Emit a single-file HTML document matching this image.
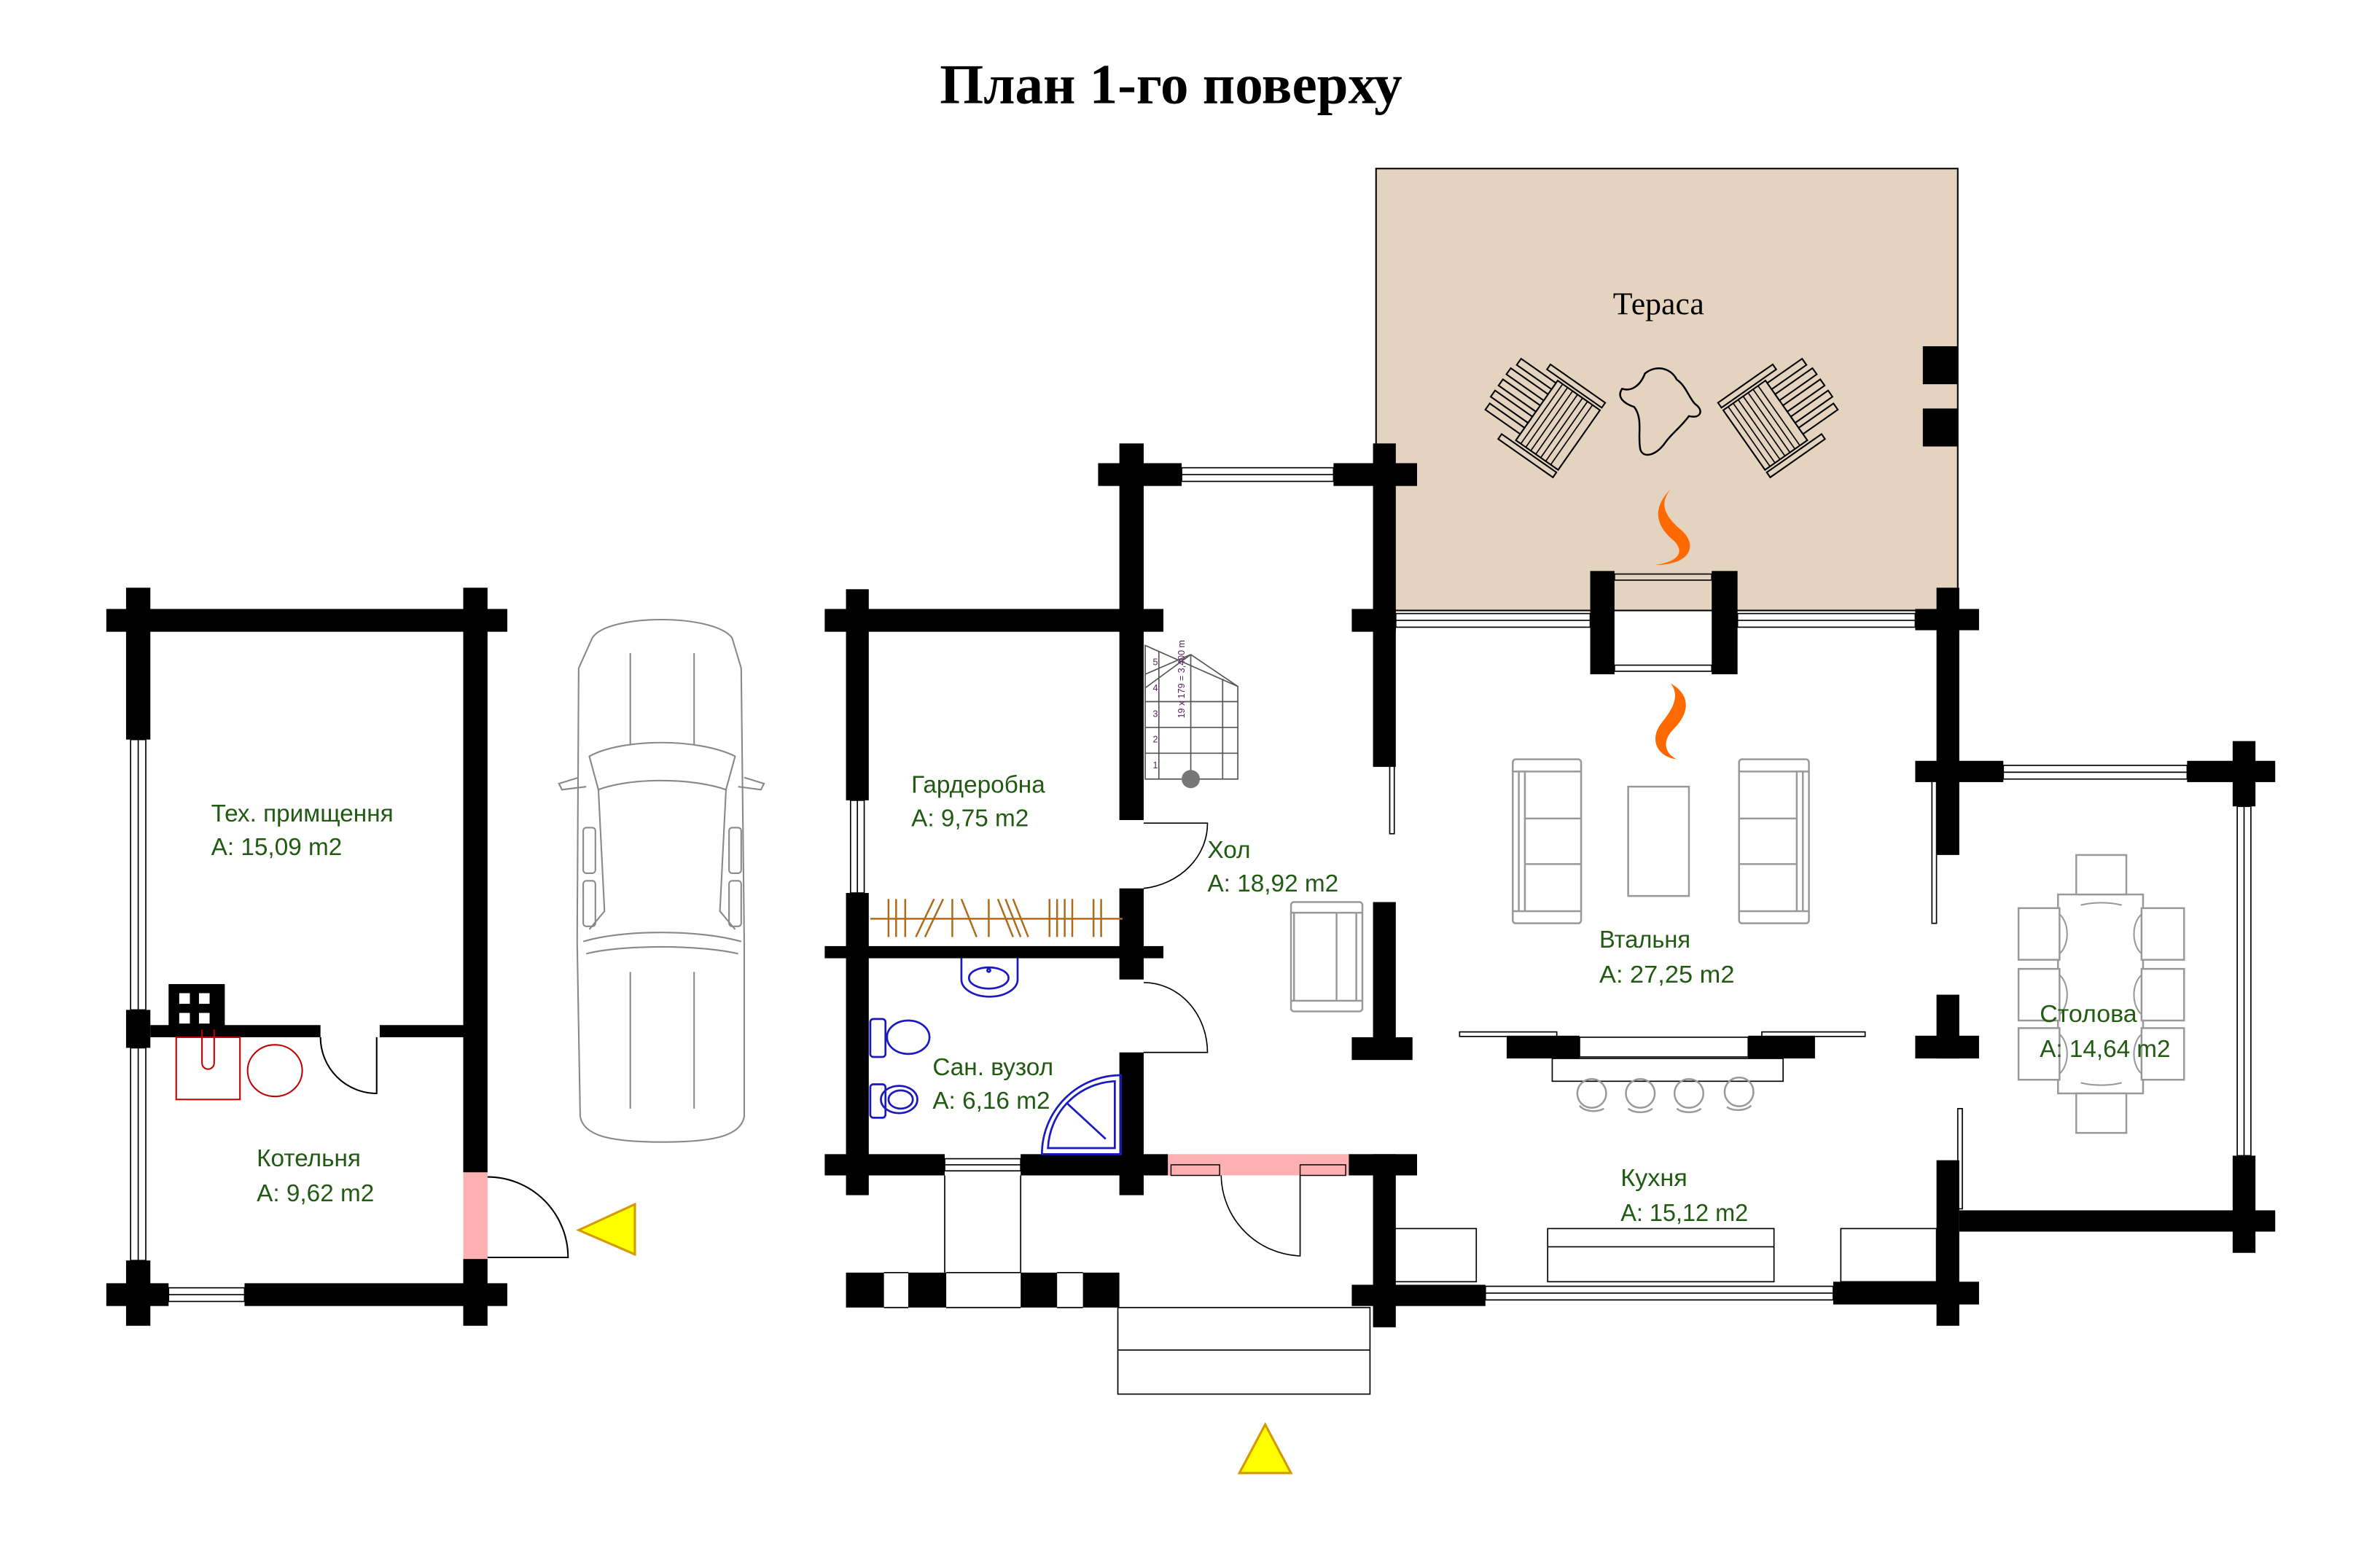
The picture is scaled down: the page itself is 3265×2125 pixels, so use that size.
<!DOCTYPE html>
<html><head><meta charset="utf-8"><style>
html,body{margin:0;padding:0;background:#fff}
svg{display:block}
.t{font-family:"Liberation Sans",sans-serif;font-size:16px;fill:#215a12}
.n{font-family:"Liberation Sans",sans-serif;font-size:16px;fill:#215a12}
</style></head><body>
<svg width="3265" height="2125" viewBox="0 0 1567 1020" preserveAspectRatio="none" xmlns="http://www.w3.org/2000/svg">
<rect width="1567" height="1020" fill="#fff"/>
<text x="771" y="68" text-anchor="middle" font-family="Liberation Serif,serif" font-weight="bold" font-size="37">План 1-го поверху</text>

<!-- Terrace -->
<rect x="906" y="111" width="383" height="291" fill="#e4d3bf" stroke="#000" stroke-width="1"/>
<text x="1092" y="207" text-anchor="middle" font-family="Liberation Serif,serif" font-size="21">Тераса</text>
<rect x="1266" y="228" width="23" height="25" fill="#000"/>
<rect x="1266" y="269" width="23" height="25" fill="#000"/>
<!-- chairs -->
<g stroke="#000" stroke-width="1" fill="#e4d3bf">
 <g transform="translate(1020,276) rotate(35)">
  <rect x="-10" y="-24" width="34" height="48"/>
  <g stroke-width="0.8"><line x1="-6" y1="-24" x2="-6" y2="24"/><line x1="-2" y1="-24" x2="-2" y2="24"/><line x1="2" y1="-24" x2="2" y2="24"/><line x1="6" y1="-24" x2="6" y2="24"/><line x1="10" y1="-24" x2="10" y2="24"/><line x1="14" y1="-24" x2="14" y2="24"/><line x1="18" y1="-24" x2="18" y2="24"/></g>
  <rect x="-38" y="-22" width="28" height="5"/><rect x="-40" y="-13" width="30" height="5"/><rect x="-40" y="-4" width="30" height="5"/><rect x="-40" y="5" width="30" height="5"/><rect x="-38" y="14" width="28" height="5"/>
  <rect x="-20" y="-30" width="44" height="4"/><rect x="-20" y="26" width="44" height="4"/>
 </g>
 <g transform="translate(1168,276) rotate(-35)">
  <rect x="-24" y="-24" width="34" height="48"/>
  <g stroke-width="0.8"><line x1="-20" y1="-24" x2="-20" y2="24"/><line x1="-16" y1="-24" x2="-16" y2="24"/><line x1="-12" y1="-24" x2="-12" y2="24"/><line x1="-8" y1="-24" x2="-8" y2="24"/><line x1="-4" y1="-24" x2="-4" y2="24"/><line x1="0" y1="-24" x2="0" y2="24"/><line x1="4" y1="-24" x2="4" y2="24"/></g>
  <rect x="10" y="-22" width="28" height="5"/><rect x="10" y="-13" width="30" height="5"/><rect x="10" y="-4" width="30" height="5"/><rect x="10" y="5" width="30" height="5"/><rect x="10" y="14" width="28" height="5"/>
  <rect x="-24" y="-30" width="44" height="4"/><rect x="-24" y="26" width="44" height="4"/>
 </g>
</g>
<path d="M1083,246 C1090,240 1100,242 1104,250 C1110,254 1112,262 1116,266 C1122,270 1120,276 1112,274 C1106,282 1100,286 1096,292 C1090,300 1082,302 1080,296 C1078,286 1082,276 1076,268 C1070,266 1064,262 1068,256 C1074,258 1080,254 1083,246 Z" fill="none" stroke="#000" stroke-width="1.2"/>
<!-- flames -->
<path d="M1100,322 C1086,336 1092,348 1102,356 C1110,364 1104,370 1090,372 C1112,372 1118,360 1108,350 C1096,340 1092,332 1100,322 Z" fill="#ff6a00"/>
<path d="M1100,450 C1114,458 1112,470 1102,480 C1094,488 1096,496 1104,500 C1090,498 1086,486 1094,476 C1102,466 1106,458 1100,450 Z" fill="#ff6a00"/>

<!-- ============ GARAGE ============ -->
<g fill="#000">
<rect x="70" y="401" width="264" height="15"/>
<rect x="83" y="387" width="16" height="100"/>
<rect x="83" y="665" width="16" height="25"/>
<rect x="83" y="830" width="16" height="43"/>
<rect x="305" y="387" width="16" height="385"/>
<rect x="305" y="829" width="16" height="44"/>
<rect x="70" y="845" width="41" height="15"/>
<rect x="161" y="845" width="173" height="15"/>
<rect x="99" y="675" width="112" height="8"/>
<rect x="250" y="675" width="55" height="8"/>
<rect x="111" y="648" width="37" height="35"/>
</g>
<g fill="none" stroke="#000" stroke-width="0.8">
<rect x="86" y="487" width="10" height="178"/><line x1="91" y1="487" x2="91" y2="665"/>
<rect x="86" y="690" width="10" height="140"/><line x1="91" y1="690" x2="91" y2="830"/>
<rect x="111" y="848" width="50" height="9"/><line x1="111" y1="852.5" x2="161" y2="852.5"/>
</g>
<g fill="#fff"><rect x="118" y="654" width="7" height="7"/><rect x="131" y="654" width="7" height="7"/><rect x="118" y="667" width="7" height="7"/><rect x="131" y="667" width="7" height="7"/></g>
<g fill="none" stroke="#c00000" stroke-width="1">
<rect x="116" y="683" width="42" height="41"/>
<path d="M133,678 V700 A4,4 0 0 0 141,700 V678"/>
<ellipse cx="181" cy="705" rx="18" ry="17"/>
</g>
<path d="M211,683 A37,37 0 0 0 248,720 V683" fill="none" stroke="#000" stroke-width="1"/>
<rect x="305" y="772" width="16" height="57" fill="#ffb0b0"/>
<path d="M321,775 A53,53 0 0 1 374,828 H321" fill="none" stroke="#000" stroke-width="1"/>
<polygon points="381,810 418,793 418,826" fill="#ffff00" stroke="#d49a00" stroke-width="1.5"/>
<text class="t" x="139" y="541">Тех. примщення</text>
<text class="t" x="139" y="563">A: 15,09 m2</text>
<text class="t" x="169" y="768">Котельня</text>
<text class="t" x="169" y="791">A: 9,62 m2</text>

<!-- car -->
<g fill="none" stroke="#888" stroke-width="1">
<path d="M390,420 C400,404 470,404 482,420 L488,440 L490,620 L490,735 C488,748 470,752 436,752 C402,752 384,748 382,735 L380,620 L381,440 Z"/>
<path d="M388,498 C410,486 460,486 484,498 L478,520 C455,512 415,512 394,520 Z"/>
<path d="M384,620 C410,612 460,612 488,620"/>
<path d="M386,628 C410,622 460,622 486,628"/>
<line x1="415" y1="430" x2="415" y2="490"/><line x1="457" y1="430" x2="457" y2="490"/>
<line x1="415" y1="640" x2="415" y2="730"/><line x1="457" y1="640" x2="457" y2="730"/>
<path d="M394,520 L398,600 L388,612"/><path d="M478,520 L474,600 L484,612"/>
<path d="M381,512 L368,516 L370,520 L386,518"/><path d="M490,512 L503,516 L501,520 L486,518"/>
<rect x="384" y="545" width="8" height="30" rx="2"/><rect x="480" y="545" width="8" height="30" rx="2"/>
<rect x="384" y="580" width="8" height="30" rx="2"/><rect x="480" y="580" width="8" height="30" rx="2"/>
</g>

<!-- ============ MAIN HOUSE ============ -->
<g fill="#000">
<rect x="543" y="401" width="223" height="15"/>
<rect x="557" y="388" width="15" height="139"/>
<rect x="557" y="588" width="15" height="199"/>
<rect x="543" y="623" width="223" height="8"/>
<rect x="737" y="292" width="16" height="248"/>
<rect x="737" y="585" width="16" height="60"/>
<rect x="737" y="693" width="16" height="94"/>
<rect x="723" y="305" width="55" height="15"/>
<rect x="878" y="305" width="55" height="15"/>
<rect x="904" y="292" width="15" height="213"/>
<rect x="890" y="401" width="29" height="15"/>
<rect x="904" y="594" width="15" height="103"/>
<rect x="890" y="683" width="40" height="15"/>
<rect x="543" y="760" width="79" height="14"/>
<rect x="672" y="760" width="97" height="14"/>
<rect x="888" y="760" width="45" height="14"/>
<rect x="904" y="760" width="15" height="114"/>
<rect x="890" y="846" width="88" height="14"/>
<rect x="557" y="838" width="25" height="23"/>
<rect x="598" y="838" width="25" height="23"/>
<rect x="672" y="838" width="24" height="23"/>
<rect x="713" y="838" width="24" height="23"/>
<rect x="1047" y="376" width="16" height="68"/>
<rect x="1127" y="376" width="17" height="68"/>
<rect x="1275" y="387" width="15" height="176"/>
<rect x="1261" y="401" width="42" height="14"/>
<rect x="1261" y="501" width="58" height="14"/>
<rect x="1440" y="501" width="58" height="14"/>
<rect x="1470" y="488" width="15" height="43"/>
<rect x="992" y="682" width="48" height="15"/>
<rect x="1151" y="682" width="44" height="15"/>
<rect x="1275" y="655" width="15" height="42"/>
<rect x="1261" y="682" width="42" height="15"/>
<rect x="1207" y="844" width="96" height="15"/>
<rect x="1275" y="764" width="15" height="109"/>
<rect x="1290" y="797" width="208" height="14"/>
<rect x="1470" y="761" width="15" height="64"/>
</g>
<g fill="none" stroke="#000" stroke-width="0.8">
<rect x="560" y="527" width="9" height="61"/><line x1="564.5" y1="527" x2="564.5" y2="588"/>
<rect x="778" y="308" width="100" height="9"/><line x1="778" y1="312.5" x2="878" y2="312.5"/>
<rect x="622" y="763" width="50" height="8"/><line x1="622" y1="767" x2="672" y2="767"/>
<rect x="919" y="404" width="128" height="9"/><line x1="919" y1="408.5" x2="1047" y2="408.5"/>
<rect x="1144" y="404" width="117" height="9"/><line x1="1144" y1="408.5" x2="1261" y2="408.5"/>
<rect x="1319" y="504" width="121" height="9"/><line x1="1319" y1="508.5" x2="1440" y2="508.5"/>
<rect x="1473" y="531" width="9" height="230"/><line x1="1477.5" y1="531" x2="1477.5" y2="761"/>
<rect x="978" y="847" width="229" height="9"/><line x1="978" y1="851.5" x2="1207" y2="851.5"/>
<rect x="1063" y="378" width="64" height="4"/><rect x="1063" y="438" width="64" height="4"/>
<rect x="915" y="460" width="3" height="89"/>
<rect x="1272" y="514" width="3" height="94"/>
<rect x="1289" y="730" width="3" height="66"/>
<line x1="622" y1="774" x2="622" y2="838"/><line x1="672" y1="774" x2="672" y2="838"/>
<line x1="582" y1="838" x2="598" y2="838"/><line x1="582" y1="861" x2="598" y2="861"/>
<line x1="623" y1="838" x2="672" y2="838"/><line x1="623" y1="861" x2="672" y2="861"/>
<line x1="696" y1="838" x2="713" y2="838"/><line x1="696" y1="861" x2="713" y2="861"/>
<rect x="736" y="861" width="166" height="57"/><line x1="736" y1="889" x2="902" y2="889"/>
<path d="M753,542 H795 A48,43 0 0 1 753,585"/>
<path d="M753,647 A42,46 0 0 1 795,693 H753"/>
<path d="M804,774 A54,54 0 0 0 856,827 V774"/>
<rect x="961" y="679.5" width="64" height="3"/>
<rect x="1160" y="679.5" width="68" height="3"/>
<rect x="1040" y="683" width="111" height="13"/>
<rect x="1022" y="697" width="152" height="15"/>
<rect x="917" y="809" width="55" height="35"/>
<rect x="1019" y="809" width="149" height="35"/><line x1="1019" y1="821" x2="1168" y2="821"/>
<rect x="1212" y="809" width="63" height="35"/>
</g>
<rect x="769" y="760" width="119" height="14" fill="#ffb0b0"/>
<g fill="none" stroke="#000" stroke-width="0.7"><rect x="771" y="767" width="32" height="7"/><rect x="856" y="767" width="30" height="7"/></g>
<g fill="none" stroke="#999" stroke-width="1.2">
<circle cx="1048" cy="720" r="9.5"/><circle cx="1080" cy="720" r="9.5"/><circle cx="1112" cy="720" r="9.5"/><circle cx="1145" cy="719" r="9.5"/>
<path d="M1040,728 A10,6 0 0 0 1056,730"/><path d="M1072,730 A10,6 0 0 0 1088,730"/><path d="M1104,730 A10,6 0 0 0 1120,730"/><path d="M1137,729 A10,6 0 0 0 1153,728"/>
</g>
<g fill="none" stroke="#999" stroke-width="1.2">
<rect x="996" y="500" width="45" height="108" rx="2"/><line x1="996" y1="508" x2="1041" y2="508"/><line x1="996" y1="600" x2="1041" y2="600"/><line x1="1000" y1="508" x2="1000" y2="600"/><line x1="1004" y1="508" x2="1004" y2="600"/><line x1="1004" y1="539" x2="1041" y2="539"/><line x1="1004" y1="569" x2="1041" y2="569"/>
<rect x="1145" y="500" width="46" height="108" rx="2"/><line x1="1145" y1="508" x2="1191" y2="508"/><line x1="1145" y1="600" x2="1191" y2="600"/><line x1="1187" y1="508" x2="1187" y2="600"/><line x1="1183" y1="508" x2="1183" y2="600"/><line x1="1145" y1="539" x2="1183" y2="539"/><line x1="1145" y1="569" x2="1183" y2="569"/>
<rect x="1072" y="518" width="40" height="72"/>
<rect x="850" y="594" width="47" height="72" rx="2"/><line x1="850" y1="601" x2="897" y2="601"/><line x1="850" y1="659" x2="897" y2="659"/><line x1="852" y1="601" x2="852" y2="659"/><line x1="880" y1="601" x2="880" y2="659"/><line x1="893" y1="601" x2="893" y2="659"/>
</g>
<g fill="#fff" stroke="#999" stroke-width="1.2">
<rect x="1355" y="589" width="56" height="131"/>
<rect x="1367" y="563" width="33" height="26"/>
<rect x="1367" y="720" width="33" height="26"/>
<rect x="1329" y="598" width="27" height="34"/><rect x="1329" y="638" width="27" height="34"/><rect x="1329" y="677" width="27" height="34"/>
<rect x="1410" y="598" width="28" height="34"/><rect x="1410" y="638" width="28" height="34"/><rect x="1410" y="677" width="28" height="34"/>
</g>
<g fill="none" stroke="#999" stroke-width="1">
<path d="M1370,596 A25,10 0 0 1 1397,596"/><path d="M1370,713 A25,10 0 0 0 1397,713"/>
<path d="M1356,602 A10,15 0 0 1 1356,628"/><path d="M1356,642 A10,15 0 0 1 1356,668"/><path d="M1356,681 A10,15 0 0 1 1356,707"/>
<path d="M1410,602 A10,15 0 0 0 1410,628"/><path d="M1410,642 A10,15 0 0 0 1410,668"/><path d="M1410,681 A10,15 0 0 0 1410,707"/>
</g>
<g fill="none" stroke="#555" stroke-width="0.8">
<path d="M754,425 L815,452 L815,513 L754,513 Z"/>
<line x1="754" y1="444" x2="784" y2="431"/><line x1="784" y1="431" x2="815" y2="452"/>
<line x1="754" y1="462" x2="815" y2="462"/><line x1="754" y1="479" x2="815" y2="479"/><line x1="754" y1="496" x2="815" y2="496"/>
<line x1="784" y1="431" x2="784" y2="513"/><line x1="805" y1="447" x2="805" y2="513"/><line x1="763" y1="429" x2="763" y2="513"/>
<line x1="754" y1="453" x2="784" y2="431"/>
</g>
<circle cx="784" cy="513" r="6" fill="#777"/>
<g font-family="Liberation Sans,sans-serif" font-size="6" fill="#5a2060">
<text x="759" y="438">5</text><text x="759" y="455">4</text><text x="759" y="472">3</text><text x="759" y="489">2</text><text x="759" y="506">1</text>
<text transform="translate(780,473) rotate(-90)">19 x 179 = 3,400 m</text>
</g>
<g stroke="#b06a1a" stroke-width="1.2" fill="none">
<line x1="573" y1="605" x2="739" y2="605"/>
<line x1="585" y1="592" x2="585" y2="617"/><line x1="590" y1="592" x2="590" y2="617"/><line x1="596" y1="592" x2="596" y2="617"/>
<line x1="603" y1="617" x2="615" y2="592"/><line x1="609" y1="617" x2="621" y2="592"/>
<line x1="627" y1="592" x2="627" y2="617"/><line x1="633" y1="592" x2="643" y2="617"/>
<line x1="651" y1="592" x2="651" y2="617"/>
<line x1="657" y1="592" x2="667" y2="617"/><line x1="662" y1="592" x2="672" y2="617"/><line x1="667" y1="592" x2="677" y2="617"/>
<line x1="691" y1="592" x2="691" y2="617"/><line x1="696" y1="592" x2="696" y2="617"/><line x1="701" y1="592" x2="701" y2="617"/><line x1="706" y1="592" x2="706" y2="617"/>
<line x1="720" y1="592" x2="720" y2="617"/><line x1="725" y1="592" x2="725" y2="617"/>
</g>
<g fill="none" stroke="#1a1ac0" stroke-width="1.3">
<path d="M633,631 V645 A18,11 0 0 0 670,645 V631"/><ellipse cx="651" cy="644" rx="13" ry="7"/><circle cx="651" cy="639" r="1"/>
<rect x="573" y="671" width="10" height="25" rx="2"/><ellipse cx="598" cy="683" rx="14" ry="11"/>
<rect x="573" y="714" width="10" height="22" rx="2"/><ellipse cx="592" cy="724" rx="12" ry="9"/><ellipse cx="593" cy="724" rx="8" ry="6"/>
<path d="M738,708 V760 H686 A52,52 0 0 1 738,708 Z"/><path d="M734,712 V756 H690 A46,46 0 0 1 734,712 Z"/><line x1="702" y1="726" x2="728" y2="750"/>
</g>
<polygon points="816,970 850,970 833,938" fill="#ffff00" stroke="#d49a00" stroke-width="1.5"/>

<text class="t" x="600" y="522">Гардеробна</text>
<text class="t" x="600" y="544">A: 9,75 m2</text>
<text class="t" x="795" y="565">Хол</text>
<text class="t" x="795" y="587">A: 18,92 m2</text>
<text class="t" x="614" y="708">Сан. вузол</text>
<text class="t" x="614" y="730">A: 6,16 m2</text>
<text class="n" x="1053" y="624" textLength="60" lengthAdjust="spacingAndGlyphs">Втальня</text>
<text class="n" x="1053" y="647" textLength="89" lengthAdjust="spacingAndGlyphs">A: 27,25 m2</text>
<text class="n" x="1067" y="781" textLength="44" lengthAdjust="spacingAndGlyphs">Кухня</text>
<text class="n" x="1067" y="804" textLength="84" lengthAdjust="spacingAndGlyphs">A: 15,12 m2</text>
<text class="n" x="1343" y="673" textLength="64" lengthAdjust="spacingAndGlyphs">Столова</text>
<text class="n" x="1343" y="696" textLength="86" lengthAdjust="spacingAndGlyphs">A: 14,64 m2</text>
</svg>
</body></html>
